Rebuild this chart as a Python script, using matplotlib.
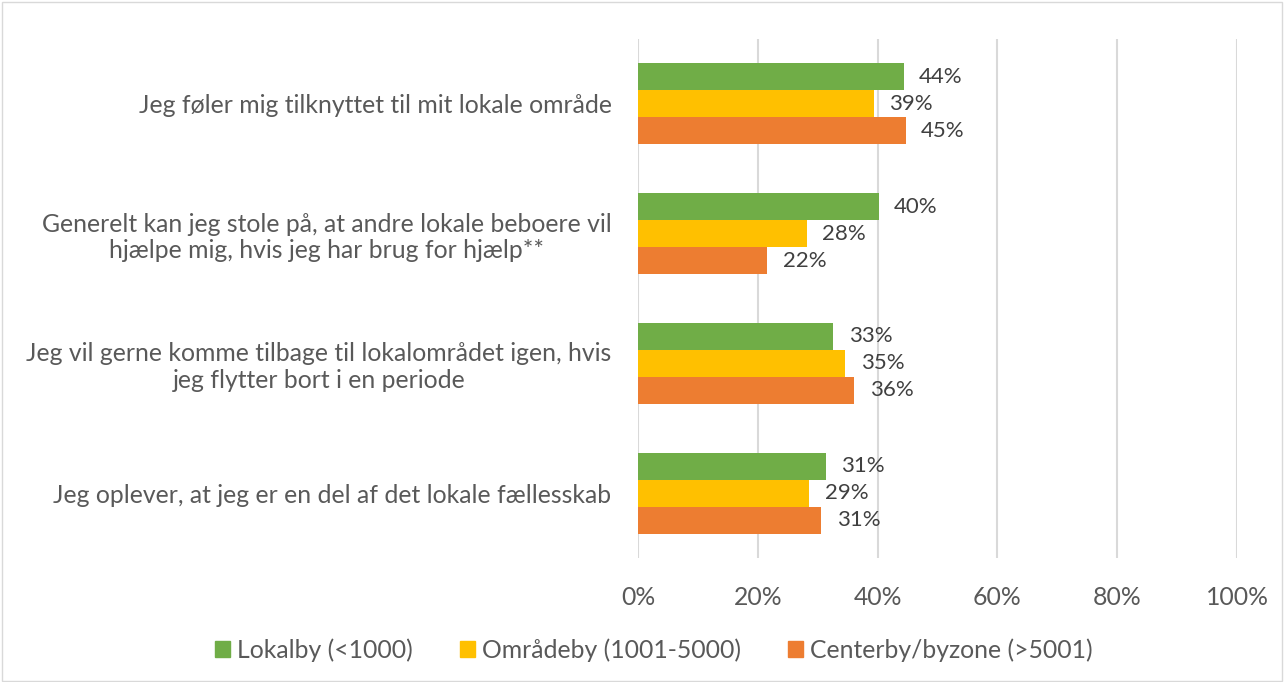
import numpy as np
import matplotlib.pyplot as plt
from matplotlib.patches import Patch, Rectangle

# data
categories = [
    "Jeg føler mig tilknyttet til mit lokale område",
    "Generelt kan jeg stole på, at andre lokale beboere vil\nhjælpe mig, hvis jeg har brug for hjælp**",
    "Jeg vil gerne komme tilbage til lokalområdet igen, hvis\njeg flytter bort i en periode",
    "Jeg oplever, at jeg er en del af det lokale fællesskab",
]
series_names = ["Lokalby (<1000)", "Områdeby (1001-5000)", "Centerby/byzone (>5001)"]
lokalby = [44.4, 40.2, 32.6, 31.4]
omraadeby = [39.4, 28.2, 34.6, 28.6]
centerby = [44.7, 21.6, 36.1, 30.6]
xticks = [0, 20, 40, 60, 80, 100]

colors = ["#70AD47", "#FFC000", "#ED7D31"]
txt_col = "#595959"
font = "Lato"
fs = 17.8

plt.rcParams["font.family"] = [font, "DejaVu Sans"]

fig = plt.figure(figsize=(12.84, 6.82), dpi=100)
ax = fig.add_axes([638 / 1284, 1 - 558 / 682, (1237 - 638) / 1284, (558 - 39) / 682])

y = np.arange(len(categories))
h = 0.2077
for i, vals in enumerate([lokalby, omraadeby, centerby]):
    pos = y + (i - 1) * h
    bars = ax.barh(pos, vals, height=h, color=colors[i], label=series_names[i], zorder=3)
    for b, v in zip(bars, vals):
        ax.annotate(f"{round(v):.0f}%", (b.get_width(), b.get_y() + h / 2),
                    xytext=(11, 0), textcoords="offset points",
                    va="center", ha="left", fontsize=16, color="#404040")

ax.set_ylim(len(categories) - 0.5, -0.5)
ax.set_xlim(0, 100)
ax.set_xticks(xticks)
ax.set_xticklabels([f"{t}%" for t in xticks], fontsize=fs, color=txt_col)
ax.set_yticks(y)
ax.set_yticklabels(categories, fontsize=fs, color=txt_col)
for lab in ax.get_yticklabels():
    lab.set_multialignment("center")
ax.tick_params(axis="both", length=0)
ax.tick_params(axis="y", pad=19)
ax.tick_params(axis="x", pad=20)
ax.grid(axis="x", color="#D9D9D9", linewidth=1.5, zorder=0)
for s in ax.spines.values():
    s.set_visible(False)

handles = [Patch(color=c) for c in colors]
fig.legend(handles, series_names, loc="center", bbox_to_anchor=(654 / 1284, 1 - 650 / 682),
           ncol=3, frameon=False, fontsize=fs, labelcolor=txt_col,
           handlelength=0.6, handleheight=0.6, handletextpad=0.3, columnspacing=1.9)

# light chart border
fig.add_artist(Rectangle((0.0015, 0.002), 0.997, 0.995, transform=fig.transFigure,
                         fill=False, edgecolor="#D9D9D9", linewidth=1))

fig.savefig("out.png", dpi=100)
